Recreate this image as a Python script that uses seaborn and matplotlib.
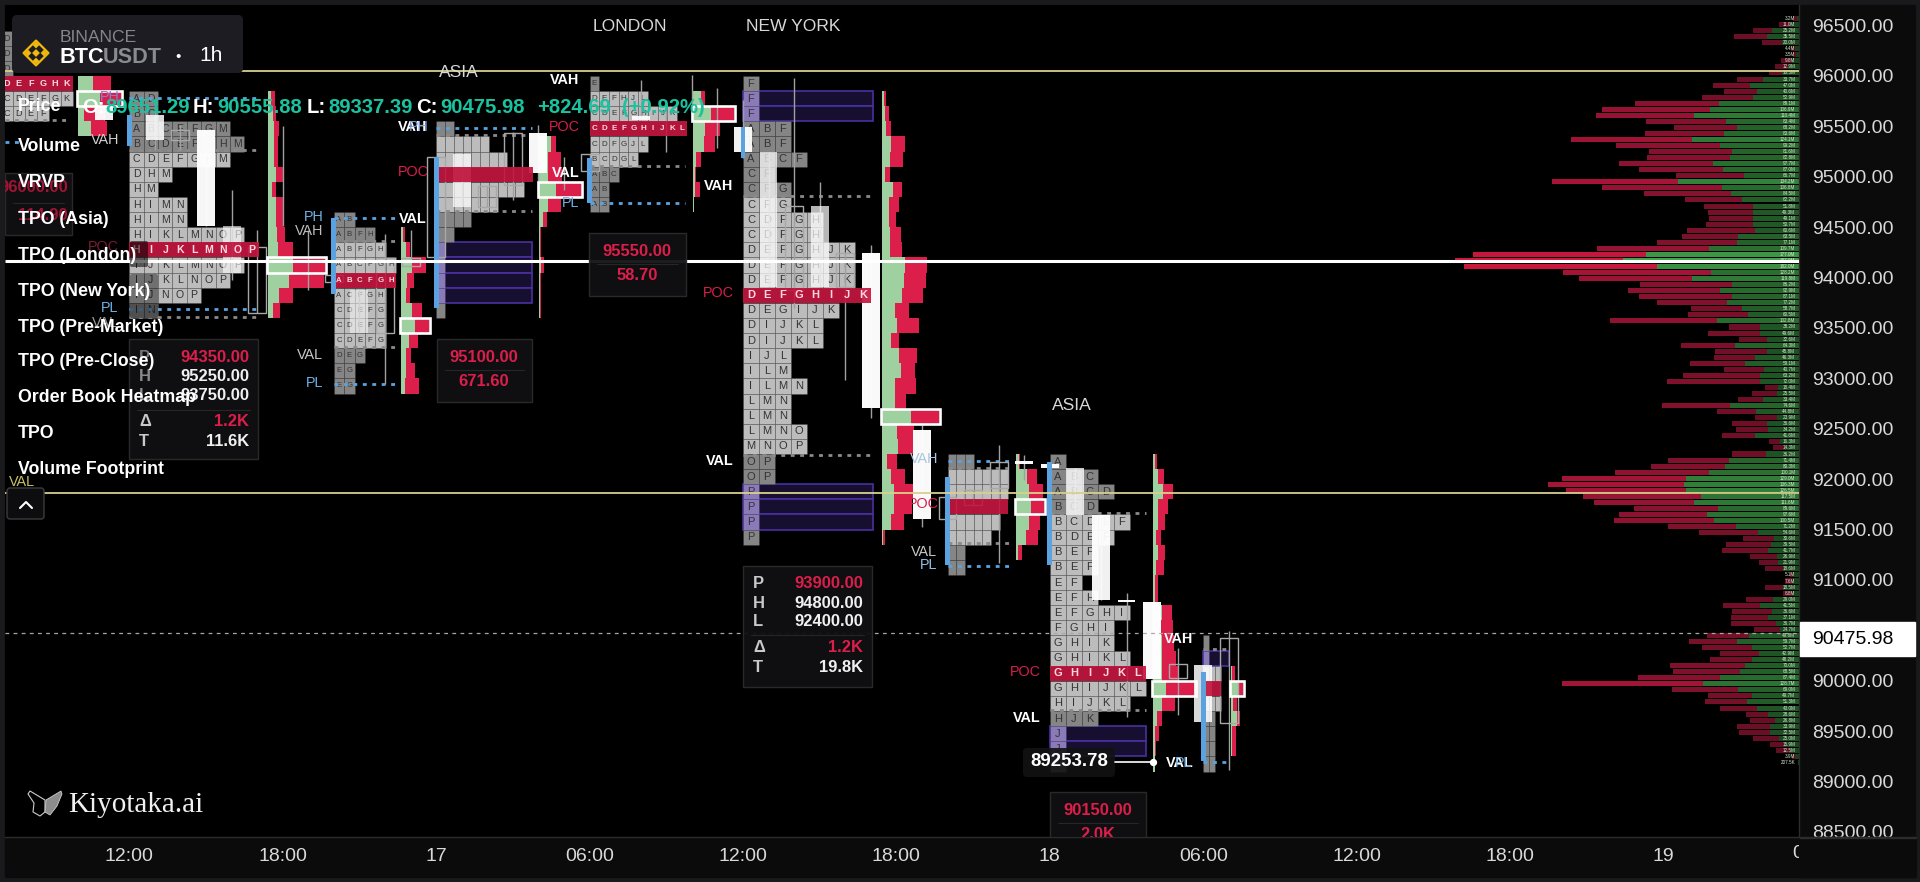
import matplotlib
matplotlib.use('Agg')
import matplotlib.pyplot as plt
from matplotlib.patches import Rectangle, FancyBboxPatch, Polygon
from matplotlib.transforms import Bbox
import numpy as np
import seaborn as sns

# time axis is hours after 12:00 on the 16th, price axis is USDT
tick_hours = [0, 6, 12, 18, 24, 30, 36, 42, 48, 54, 60]
tick_labels = ['12:00', '18:00', '17', '06:00', '12:00', '18:00', '18', '06:00', '12:00', '18:00', '19']
price_ticks = [96500, 96000, 95500, 95000, 94500, 94000, 93500, 93000, 92500, 92000, 91500, 91000, 90000, 89500, 89000, 88500]
last_price = 90475.98
level_lines = [96050, 91860]
white_line = 94165

# visible range volume profile (millions)
vrvp_total = [3.2, 11.0, 25.2, 35.5, 20.0, 4.4, 3.5, 9.8, 12.9, 16.5, 33.7, 47.0, 40.6, 52.9, 89.1, 106.9, 110.4, 83.4, 68.2, 83.6,
              124.1, 99.2, 81.6, 82.8, 97.7, 87.0, 66.7, 134.2, 106.8, 84.5, 62.2, 51.8, 49.3, 49.1, 50.7, 60.6, 63.5, 77.1, 109.7, 177.0,
              187.0, 182.0, 128.2, 119.8, 86.2, 92.9, 87.1, 77.2, 58.7, 60.5, 102.8, 38.2, 49.6, 32.6, 64.3, 45.8, 46.3, 59.1, 40.7, 63.2,
              72.0, 18.4, 25.5, 33.4, 74.6, 44.8, 23.9, 36.6, 34.2, 41.6, 16.3, 14.3, 36.2, 71.4, 80.3, 100.1, 129.0, 136.3, 126.5, 117.5,
              111.6, 89.6, 97.6, 100.5, 71.2, 54.6, 30.6, 39.5, 41.7, 26.9, 21.9, 18.6, 5.1, 7.6, 18.5, 8.8, 29.0, 41.5, 36.6, 37.1,
              36.7, 24.7, 49.8, 59.7, 52.7, 42.9, 48.2, 70.0, 68.5, 87.4, 128.7, 69.0, 49.7, 51.3, 43.0, 28.6, 26.8, 33.9, 32.5, 25.0,
              15.9, 12.5, 3.9, 0.2075]
vrvp_buy = [1.3, 4.9, 14.9, 17.6, 9.4, 2.2, 1.6, 4.0, 5.8, 9.4, 19.4, 26.6, 23.0, 25.2, 43.3, 48.4, 56.9, 39.9, 33.9, 40.9,
            58.0, 42.9, 36.2, 37.5, 46.6, 41.5, 29.7, 65.6, 42.0, 37.1, 31.2, 25.2, 25.2, 24.8, 24.8, 23.9, 33.0, 33.9, 48.7, 83.3,
            95.5, 77.4, 48.0, 58.3, 36.6, 42.9, 36.6, 39.3, 31.2, 27.5, 44.7, 21.2, 21.2, 17.2, 34.8, 17.6, 23.9, 29.3, 19.0, 21.2,
            21.2, 11.2, 12.1, 19.4, 37.5, 23.6, 11.8, 17.6, 16.7, 23.9, 10.3, 7.6, 17.9, 37.9, 40.2, 48.9, 61.4, 62.3, 61.4, 53.4,
            56.9, 43.8, 49.8, 46.2, 34.4, 22.1, 13.6, 15.4, 16.7, 12.1, 11.2, 8.5, 3.1, 3.1, 8.9, 3.1, 14.3, 21.2, 14.5, 16.7,
            12.5, 10.3, 27.0, 33.9, 25.7, 21.7, 25.7, 29.3, 32.1, 42.9, 52.0, 33.0, 25.7, 28.4, 23.0, 16.7, 13.0, 15.8, 15.8, 10.7,
            7.6, 4.9, 2.2, 0.4]
vrvp_top = 96570
vrvp_step = 60

# TPO sessions, '.' means a block too narrow to carry a letter
tpo_row = 150
p0_rows = ['D', 'D', 'D', 'DEFGHK', 'CDEFGK', 'CDEF']
p1_rows = ['AD', 'BC', 'ABCEFGM', 'BCDEFGHM', 'CDEFGHM', 'DHM', 'HM', 'HIMN', 'HIMN', 'HIKLMNOP', 'HIJKLMNOP', 'IJKLMNOP', 'IJKLNOP', 'IJNOP', 'IN']
p2_rows = ['AB', 'ABFH', 'ABFGH', 'ABCFGH', 'ABCFGH', 'ACFGH', 'CDEFG', 'CDEFG', 'CDEFG', 'DEG', 'EG', 'EG']
p3_rows = ['..', '......', '........', '...........', '..........', '.......', '....', '..', '.', '.', '.', '.', '.']
p4_rows = ['E', 'DEFHJL', 'CDEFGHIJK', 'CDEFGHIJKL', 'CDFGJL', 'BCDGL', 'ABC', 'AB', 'AB']
p5_rows = ['F', 'F', 'F', 'ABF', 'ABF', 'ABCF', 'CF', 'CFG', 'CFG', 'CDFGH', 'CDFGH', 'DEFGHJK', 'DEFGHJK', 'DEFGHJK', 'DEFGHIJK',
           'DEGIJK', 'DIJKL', 'DIJKL', 'IJL', 'ILM', 'ILMN', 'LMN', 'LMN', 'LMNO', 'MNOP', 'OP', 'OP', 'P', 'P', 'P', 'P']
p6_rows = ['...', '.......', '.......', '.......', '......', '.....', '..', '..']
p7_rows = ['A', 'ABC', 'ABCD', 'BCD', 'BCDEF', 'BDEF', 'BEF', 'BEF', 'EF', 'EFH', 'EFGHI', 'FGHI', 'GHIK', 'GHIKL', 'GHIJKL', 'GHIJKL',
           'HIJKL', 'HJK', 'J', 'J', 'J']
p8_rows = ['.', '.', '...', '...', '...', '..', '..', '..', '..']

tpo_start = [-5.03, 0, 8, 12, 18, 24, 32, 36, 42]
tpo_width = [0.47, 0.563, 0.405, 0.344, 0.38, 0.625, 0.34, 0.625, 0.235]
tpo_top = [96450, 95850, 94650, 95550, 96000, 96000, 92250, 92250, 90450]
tpo_rows = [p0_rows, p1_rows, p2_rows, p3_rows, p4_rows, p5_rows, p6_rows, p7_rows, p8_rows]
tpo_poc = [3, 10, 4, 3, 3, 14, 3, 14, 3]
tpo_va = [(3, 5), (4, 13), (2, 8), (1, 5), (1, 5), (8, 24), (1, 5), (4, 16), (2, 4)]
tpo_font = [6.6, 7.6, 5.6, 5, 5.8, 8, 5, 8, 4]
# rows that carry a single print box, and where that box ends
tpo_boxed = [[], [], [], [8, 9, 10, 11], [], [1, 2, 27, 28, 29], [], [18, 19], [1]]
tpo_box_end = [0, 0, 0, 15.75, 0, 29.1, 0, 39.76, 43.0]

# session footprints: buy and sell columns per 150 USDT row
fp_start = [-2, 5.44, 10.63, 16.02, 22.05, 29.44, 34.66, 40.05, 43.08]
fp_top = [96000, 95850, 94500, 95400, 95850, 95850, 92250, 92250, 90150]
fp_buy = [[15, 22, 6, 13],
          [3, 5, 6, 6, 6, 8, 4, 8, 8, 9, 10, 25, 21, 11, 5],
          [2, 5, 11, 6, 5, 11, 14, 8, 5, 5, 4],
          [12, 9, 9, 17, 9, 4, 1, 1, 2, 1, 1, 1],
          [8, 18, 12, 11, 3, 2, 2, 1],
          [2, 3, 4, 9, 8, 3, 11, 7, 7, 8, 8, 23, 22, 20, 13, 15, 9, 17, 19, 13, 13, 29, 15, 16, 5, 9, 12, 12, 9, 1],
          [3, 11, 13, 15, 13, 10, 2],
          [2, 5, 10, 5, 5, 3, 5, 3, 2, 2, 9, 8, 9, 9, 9, 13, 9, 4, 2, 2, 2],
          [1, 7, 2, 6, 1, 1]]
fp_sell = [[18, 21, 21, 16],
           [4, 3, 5, 4, 4, 8, 4, 7, 7, 8, 15, 32, 35, 14, 7],
           [2, 4, 14, 7, 4, 10, 14, 9, 5, 9, 14],
           [5, 13, 14, 25, 13, 4, 1, 1, 3, 1, 1, 1],
           [4, 23, 15, 11, 5, 1, 5, 0],
           [2, 4, 5, 14, 13, 5, 9, 10, 7, 11, 12, 22, 22, 21, 14, 22, 8, 18, 14, 21, 11, 28, 17, 15, 10, 14, 20, 18, 13, 2],
           [1, 10, 14, 13, 11, 12, 4],
           [2, 6, 10, 10, 7, 5, 7, 8, 3, 3, 10, 12, 12, 14, 16, 29, 13, 5, 4, 1, 0],
           [3, 5, 4, 3, 4, 4]]
fp_poc = [1, 11, 6, 3, 1, 21, 3, 15, 1]

# hourly candles
candle_h = [-1, 1, 2, 3, 4, 5, 6, 7, 8, 9, 10, 11, 12, 13, 14, 15, 16, 17, 18, 20, 21, 22, 23, 24, 25, 26, 27, 28, 29, 31, 32, 33, 34, 35, 36, 37, 38, 39, 40, 41, 42, 43]
candle_hi = [95690, 95610, 95460, 95460, 94510, 94300, 94770, 93960, 94030, 93880, 94190, 94190, 95200, 95230, 94910, 95430, 95430, 95000, 95230, 95600, 95500, 95900, 95300, 95490, 95250, 94710, 94710, 94240, 94240, 92490, 91820, 91890, 92170, 92180, 92150, 92110, 91640, 90800, 90780, 90170, 90160, 90420]
candle_lo = [95560, 95370, 95370, 94510, 94050, 93650, 94770, 93960, 93960, 93450, 93450, 94120, 94200, 94700, 94700, 94920, 95040, 95000, 95060, 95560, 95500, 95900, 95300, 95250, 93910, 93880, 93910, 93910, 92710, 91610, 91610, 91740, 91910, 92150, 92110, 91640, 90800, 90780, 90020, 90030, 89590, 89580]
wick_hi = [95690, 95760, 95510, 95460, 94870, 94470, 95500, 94470, 94030, 93880, 94430, 94470, 95200, 95230, 94910, 95440, 95510, 95200, 95230, 95960, 95760, 96010, 95880, 95760, 95250, 95980, 94950, 94250, 94320, 92560, 91820, 91890, 92340, 92240, 92150, 92110, 91640, 90870, 90780, 90330, 90160, 90490]
wick_lo = [95560, 95270, 95270, 94510, 93980, 93650, 94510, 93880, 93960, 93450, 92940, 94190, 94200, 94700, 94700, 94770, 94870, 94870, 95060, 95560, 95250, 95560, 95290, 95190, 93910, 93700, 93910, 92980, 92610, 91530, 91610, 91740, 91170, 91990, 92110, 91640, 90800, 89640, 90020, 89660, 89590, 89120]
candle_alpha = [.95, .85, 0, .97, .6, 0, 0, 0, 0, .5, 0, 0, 0, .72, 0, 0, .97, 0, 0, .9, 0, 0, 0, .95, .72, 0, .72, 0, .98, .98, 0, 0, 0, .98, .98, .8, .95, .98, .98, 0, .85, 0]

# value area and high/low levels of each session
va_price = [95564, 95266, 93610, 94363, 93312, 95415, 94661, 95107, 94810, 92112, 91368, 91665, 89712, 90317, 92240]
va_x0 = [-4.86, 0, 0, 8, 8, 12, 12, 18, 24, 32, 32, 36, 36, 42, 24]
va_x1 = [-2.32, 5.03, 5.03, 10.39, 10.39, 15.75, 15.75, 21.73, 29.05, 34.44, 34.44, 39.76, 39.76, 43.1, 29.05]
pl_price = [95345, 95785, 93689, 94591, 92945, 95484, 94740, 92180, 91140, 89196]
pl_x0 = [-4.86, 0, 0, 8, 8, 12, 18, 32, 32, 42]
pl_x1 = [-4.27, 5.03, 5.03, 10.39, 10.39, 15.75, 21.73, 34.44, 34.44, 43.1]
bar_h = [0, 8, 12, 18, 24, 32, 36, 42]
bar_hi = [95610, 94590, 95200, 95190, 95490, 92020, 92170, 90090]
bar_lo = [95310, 93840, 93700, 94740, 95190, 91150, 91150, 89200]

level_labels = [('VAH', 105, 140, '#cfcfcf'), ('PH', 110, 97, '#8a7fd0'), ('POC', 103, 247, '#7a1c32'), ('PL', 110, 308, '#6fb0e6'),
                ('VAL', 105, 323, '#9a9a9a'), ('VAL', 22, 482, '#c8c060'), ('PH', 314, 217, '#6fb0e6'), ('VAH', 309, 231, '#bdbdbd'),
                ('VAL', 310, 355, '#c8c8c8'), ('PL', 315, 383, '#6fb0e6'), ('VAL', 413, 219, '#ffffff'), ('VAH', 413, 127, '#ffffff'),
                ('PH', 419, 127, '#7f9fe0'), ('POC', 413, 172, '#d81e4a'), ('VAH', 565, 80, '#ffffff'), ('POC', 564, 127, '#d81e4a'),
                ('VAL', 566, 173, '#ffffff'), ('PL', 571, 203, '#6fb0e6'), ('VAH', 719, 186, '#ffffff'), ('POC', 718, 293, '#d81e4a'),
                ('VAL', 720, 461, '#ffffff'), ('VAH', 924, 459, '#a9c6e0'), ('POC', 923, 504, '#d81e4a'), ('VAL', 924, 552, '#c8c8c8'),
                ('PL', 929, 565, '#8fc0ea'), ('POC', 1025, 672, '#d81e4a'), ('VAL', 1027, 718, '#ffffff'), ('VAH', 1179, 639, '#ffffff'),
                ('VAL', 1180, 763, '#ffffff'), ('PL', 1184, 763, '#6fb0e6')]
menu_items = ['Price', 'Volume', 'VRVP', 'TPO (Asia)', 'TPO (London)', 'TPO (New York)', 'TPO (Pre-Market)', 'TPO (Pre-Close)',
              'Order Book Heatmap', 'TPO', 'Volume Footprint']
ohlc_parts = [('O:', 82, '#ffffff'), ('89651.29', 105, '#19c3a0'), ('H:', 193, '#ffffff'), ('90555.88', 217, '#19c3a0'),
              ('L:', 307, '#ffffff'), ('89337.39', 328, '#19c3a0'), ('C:', 416, '#ffffff'), ('90475.98', 440, '#19c3a0'),
              ('+824.69', 537, '#19c3a0'), ('(+0.92%)', 622, '#19c3a0')]

RED = '#dc1e4b'
GREEN = '#9fd0a0'
BLUE = '#5aa3e0'
PX_PER_HOUR = 25.57
FIG_W, FIG_H = 1920, 882
LEFT, RIGHT, TOP, BOTTOM = 5, 1799, 5, 836.5

sns.set_theme(style='dark')
plt.rcParams['font.family'] = ['Liberation Sans', 'DejaVu Sans']
plt.rcParams['axes.grid'] = False

fig = plt.figure(figsize=(19.2, 8.82), dpi=100, facecolor='#1a1a1c')
fig.add_artist(Rectangle((5 / FIG_W, 5 / FIG_H), 1910 / FIG_W, 872 / FIG_H, transform=fig.transFigure, color='#0b0b0b', zorder=-5))
rect = [LEFT / FIG_W, (FIG_H - BOTTOM) / FIG_H, (RIGHT - LEFT) / FIG_W, (BOTTOM - TOP) / FIG_H]
xlim = ((LEFT - 129.3) / PX_PER_HOUR, (RIGHT - 129.3) / PX_PER_HOUR)
ylim = (96500 - (BOTTOM - 25.6) / 0.1008, 96500 - (TOP - 25.6) / 0.1008)

# volume profile sits in its own axes, growing left from the price scale
ax_v = fig.add_axes(rect, facecolor='black', zorder=1)
vrvp_price = vrvp_top - vrvp_step * np.arange(len(vrvp_total))
reds = sns.blend_palette(['#5c0d20', '#8a1230', '#cc173f'], as_cmap=True)
greens = sns.blend_palette(['#16401b', '#2a6e30', '#42a34d'], as_cmap=True)
sns.barplot(x=vrvp_total, y=vrvp_price, hue=vrvp_total, palette=reds, hue_norm=(0, 187), orient='y', native_scale=True,
            dodge=False, width=.83, legend=False, saturation=1, linewidth=0, ax=ax_v)
sns.barplot(x=vrvp_buy, y=vrvp_price, hue=vrvp_buy, palette=greens, hue_norm=(0, 95), orient='y', native_scale=True,
            dodge=False, width=.83, legend=False, saturation=1, linewidth=0, ax=ax_v)
for total, price in zip(vrvp_total, vrvp_price):
    label = f'{total:.1f}M' if total >= 1 else f'{total * 1000:.1f}K'
    ax_v.text(2, price, label, ha='right', va='center', fontsize=3.3, color='#d5e8d0')
ax_v.set(xlim=((RIGHT - LEFT) / 1.84, 0), ylim=ylim, xlabel='', ylabel='', xticks=[], yticks=[])
for s in ax_v.spines.values():
    s.set_visible(False)

ax = fig.add_axes(rect, facecolor='none', zorder=2)

# TPO letters and blocks, the POC row stays on top of the candles
for start, w, top, rows, poc, va, fs, boxed, box_end in zip(tpo_start, tpo_width, tpo_top, tpo_rows, tpo_poc, tpo_va, tpo_font, tpo_boxed, tpo_box_end):
    xs, lows, colors = [], [], []
    for i, row in enumerate(rows):
        low = top - tpo_row * (i + 1)
        if i in boxed:
            ax.bar(start, tpo_row, bottom=low, width=box_end - start, align='edge', color='#170f30', edgecolor='#4a2fa0', linewidth=1.2, zorder=2)
        if i == poc:
            ax.bar(start + np.arange(len(row)) * w, tpo_row, bottom=low, width=w, align='edge', color='#c4163f', alpha=.92, linewidth=0, zorder=3.9)
        for j, ch in enumerate(row):
            if i != poc:
                xs.append(start + j * w)
                lows.append(low)
                if i in boxed:
                    colors.append('#8a7ab8')
                elif va[0] <= i <= va[1]:
                    colors.append('#bcbcbc')
                else:
                    colors.append('#858585')
            if ch != '.':
                ax.text(start + (j + .5) * w, low + tpo_row / 2, ch, ha='center', va='center', fontsize=fs,
                        fontweight='bold' if i == poc else 'normal', color='#ffd7df' if i == poc else '#333333',
                        zorder=3.95 if i == poc else 2.6, clip_on=True)
    ax.bar(xs, tpo_row, bottom=lows, width=w, align='edge', color=colors, edgecolor=(0, 0, 0, .18), linewidth=.5, zorder=2.2)

# footprints next to each session
for start, top, buys, sells, poc in zip(fp_start, fp_top, fp_buy, fp_sell, fp_poc):
    b = np.array(buys) / PX_PER_HOUR
    s = np.array(sells) / PX_PER_HOUR
    lows = top - tpo_row * (np.arange(len(buys)) + 1)
    ax.barh(lows, b, height=tpo_row, left=start, align='edge', color=GREEN, linewidth=0, zorder=3)
    ax.barh(lows, s, height=tpo_row, left=start + b, align='edge', color=RED, linewidth=0, zorder=3)
    ax.add_patch(Rectangle((start - .04, lows[poc]), b[poc] + s[poc] + .08, tpo_row, fill=False, edgecolor='white', linewidth=1.9, zorder=4.2))

# candles
hh, hl = np.array(candle_hi), np.array(candle_lo)
alphas = np.array(candle_alpha)
ax.vlines(candle_h, wick_lo, wick_hi, color='#a0a0a0', linewidth=1, zorder=3.6)
for x, hi, lo, alpha in zip(candle_h, hh, hl, alphas):
    if alpha > 0:
        ax.bar(x, hi - lo, bottom=lo, width=.7, color='white', alpha=alpha, linewidth=0, zorder=3.8)
    elif hi > lo:
        ax.bar(x, hi - lo, bottom=lo, width=.7, facecolor='none', edgecolor='#a8a8a8', linewidth=1, zorder=3.8)

ax.bar(bar_h, np.array(bar_hi) - np.array(bar_lo), bottom=bar_lo, width=.19, color=BLUE, linewidth=0, zorder=4)
ax.hlines(va_price, va_x0, va_x1, color='#8a8a8a', linewidth=2, linestyles=(0, (1.4, 2)), zorder=3.2)
ax.hlines(pl_price, pl_x0, pl_x1, color=BLUE, linewidth=2, linestyles=(0, (1.4, 2)), zorder=3.3)

ax.hlines(level_lines, xlim[0], xlim[1], color='#d9d08c', linewidth=1.3, zorder=5)
ax.hlines(white_line, xlim[0], xlim[1], color='white', linewidth=2.2, zorder=5)
ax.hlines(last_price, xlim[0], xlim[1], color='#a8a8a8', linewidth=.9, linestyles=(0, (3, 3.5)), zorder=5)

ax.yaxis.tick_right()
ax.set_yticks(price_ticks, [f'{p:.2f}' for p in price_ticks])
ax.set_xticks(tick_hours, tick_labels)
ax.set(xlim=xlim, ylim=ylim)
ax.tick_params(axis='y', length=0, pad=9.4, labelsize=14, labelcolor='#d9d9d9')
ax.tick_params(axis='x', length=2.6, width=.8, color='#8a8a8a', pad=5.4, labelsize=14, labelcolor='#d9d9d9')
for side, s in ax.spines.items():
    s.set_visible(side in ('bottom', 'right'))
    s.set_color('#2c2c2c')
    s.set_linewidth(1)

# everything below this line is chart furniture placed in screen pixels
ov = fig.add_axes(rect, facecolor='none', zorder=3)
ov.set(xlim=(LEFT, RIGHT), ylim=(BOTTOM, TOP))
ov.axis('off')


def stat_box(x0, y0, x1, y1, rows, sep):
    ov.add_patch(Rectangle((x0, y0), x1 - x0, y1 - y0, facecolor='#101012', edgecolor='#2c2c2c', linewidth=1, alpha=.95))
    ov.plot([x0 + 8, x1 - 8], [sep, sep], color='#262626', linewidth=.8)
    for txt, x, y, ha, col in rows:
        ov.text(x, y, txt, ha=ha, va='center', color=col, fontsize=11.9, fontweight='bold', clip_on=True)


stat_box(5, 173, 72, 235, [('96000.00', 68, 188, 'right', '#a01535'), ('114.90', 68, 215, 'right', '#a01535')], 203)
stat_box(129, 339, 258, 459, [('P', 139, 357, 'left', '#777777'), ('H', 139, 377, 'left', '#8a8a8a'), ('L', 139, 396, 'left', '#8a8a8a'),
                              ('Δ', 139, 422, 'left', '#c9c9c9'), ('T', 139, 441, 'left', '#c9c9c9'),
                              ('94350.00', 249, 357, 'right', RED), ('95250.00', 249, 377, 'right', '#f0f0f0'),
                              ('93750.00', 249, 396, 'right', '#f0f0f0'), ('1.2K', 249, 422, 'right', RED), ('11.6K', 249, 441, 'right', '#f0f0f0')], 410)
stat_box(437, 339, 532, 402, [('95100.00', 484, 357, 'center', RED), ('671.60', 484, 382, 'center', RED)], 370)
stat_box(589, 233, 686, 296, [('95550.00', 637, 251, 'center', RED), ('58.70', 637, 276, 'center', RED)], 264)
stat_box(743, 566, 872, 687, [('P', 753, 583, 'left', '#c9c9c9'), ('H', 753, 603, 'left', '#c9c9c9'), ('L', 753, 622, 'left', '#c9c9c9'),
                              ('Δ', 753, 648, 'left', '#c9c9c9'), ('T', 753, 667, 'left', '#c9c9c9'),
                              ('93900.00', 863, 583, 'right', RED), ('94800.00', 863, 603, 'right', '#f0f0f0'),
                              ('92400.00', 863, 622, 'right', '#f0f0f0'), ('1.2K', 863, 648, 'right', RED), ('19.8K', 863, 667, 'right', '#f0f0f0')], 635)
stat_box(1050, 792, 1146, 870, [('90150.00', 1098, 810, 'center', RED), ('2.0K', 1098, 834, 'center', RED)], 823)

# dark patches left by the collapsed tooltips
ov.add_patch(FancyBboxPatch((132, 243), 14, 22, boxstyle='round,pad=2', facecolor='black', alpha=.55, linewidth=0))
ov.add_patch(FancyBboxPatch((132, 276), 24, 40, boxstyle='round,pad=2', facecolor='black', alpha=.4, linewidth=0))

for txt, x, y, col in level_labels:
    ov.text(x, y, txt, ha='center', va='center', color=col, fontsize=10.4, fontweight='bold' if col == '#ffffff' else 'normal')
for txt, x, y in [('LONDON', 630, 27), ('NEW YORK', 793, 27), ('ASIA', 459, 73), ('ASIA', 1072, 405)]:
    ov.text(x, y, txt, ha='center', va='center', color='#d8d8d8', fontsize=12.6)

# last price pointer
ov.add_patch(FancyBboxPatch((1027, 752), 84, 21, boxstyle='round,pad=4', facecolor='#121214', linewidth=0, alpha=.9))
ov.text(1069, 762, '89253.78', ha='center', va='center', color='white', fontsize=13.4, fontweight='bold')
ov.plot([1115, 1153], [762, 762], color='white', linewidth=1.2)
ov.scatter([1153], [762], s=18, color='white', zorder=5)

# symbol card
ov.add_patch(FancyBboxPatch((17, 20), 221, 48, boxstyle='round,pad=5', facecolor='#1c1c22', linewidth=0))
ov.text(60, 38, 'BINANCE', ha='left', va='center', color='#85858c', fontsize=12.6)
ov.text(60, 58, 'BTC', ha='left', va='center', color='white', fontsize=15.6, fontweight='bold')
ov.text(103, 58, 'USDT', ha='left', va='center', color='#8a8a92', fontsize=15.6, fontweight='bold')
ov.text(178, 57, '•', ha='center', va='center', color='white', fontsize=11)
ov.text(211, 56, '1h', ha='center', va='center', color='white', fontsize=15)
ov.scatter([36, 28, 44, 36, 36], [53, 53, 53, 45, 61], marker='D', s=[16, 12, 12, 12, 12], color='#f0b90b', linewidth=0)
ov.scatter([36], [53], marker='D', s=160, facecolor='none', edgecolor='#f0b90b', linewidth=1.6)

# indicator menu and OHLC readout
for item, y in zip(menu_items, [107, 147, 183, 219, 255, 291, 327, 362, 398, 434, 470]):
    ov.text(18, y, item, ha='left', va='center', color='white', fontsize=12.8, fontweight='bold')
for txt, x, col in ohlc_parts:
    ov.text(x, 108, txt, ha='left', va='center', color=col, fontsize=14.6, fontweight='bold')

# collapse button
ov.add_patch(FancyBboxPatch((10, 491), 31, 25, boxstyle='round,pad=3', facecolor='#0d0d0f', edgecolor='#3c3c3c', linewidth=1))
ov.plot([20, 26, 32], [508, 502, 508], color='white', linewidth=1.5)

# watermark
ov.add_patch(Polygon([[45, 800], [30, 791], [28, 794], [34, 803], [33, 812], [40, 816], [45, 812]], closed=True, facecolor='none', edgecolor='#cccccc', linewidth=.8))
ov.add_patch(Polygon([[46, 800], [61, 791], [62, 794], [57, 806], [50, 815], [45, 812]], closed=True, facecolor='#8c8c8c', edgecolor='#cccccc', linewidth=.6))
ov.text(68, 805, 'Kiyotaka.ai', ha='left', va='center', color='#f0f0f0', fontsize=21, family='Liberation Serif')

# last price tag and cover strip that clips the bottom-right labels
fig.add_artist(Rectangle((1800 / FIG_W, (FIG_H - 656) / FIG_H), 115 / FIG_W, 34 / FIG_H, transform=fig.transFigure, color='white', zorder=20))
fig.text(1812 / FIG_W, (FIG_H - 639) / FIG_H, f'{last_price:.2f}', ha='left', va='center', color='black', fontsize=14, zorder=21)
fig.add_artist(Rectangle((1799.5 / FIG_W, 5 / FIG_H), 116 / FIG_W, 40 / FIG_H, transform=fig.transFigure, color='#0b0b0b', zorder=15))
fig.add_artist(Rectangle((1799.5 / FIG_W, 44.5 / FIG_H), 116 / FIG_W, 1 / FIG_H, transform=fig.transFigure, color='#2c2c2c', zorder=16))
# the last time label is cut off by the price scale
cut = fig.text(1817 / FIG_W, (FIG_H - 854) / FIG_H, '06:00', ha='center', va='center', color='#d9d9d9', fontsize=14, zorder=17)
cut.set_clip_box(Bbox([[0, 0], [1799, FIG_H]]))
cut.set_clip_on(True)

plt.savefig('out.png', dpi=100, facecolor=fig.get_facecolor())
